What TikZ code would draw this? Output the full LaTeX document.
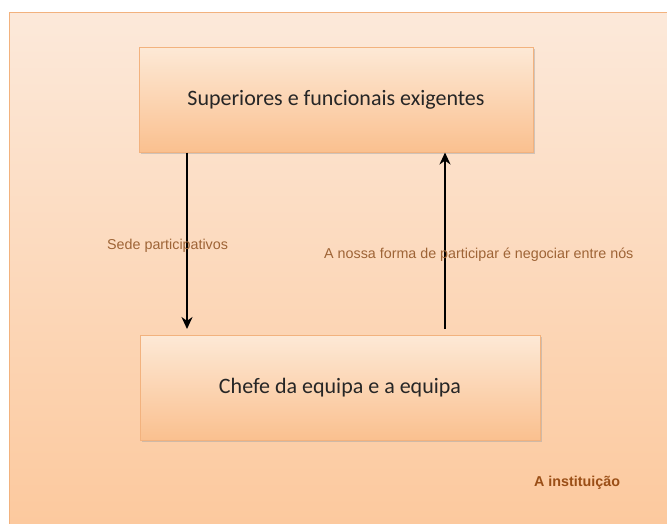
\documentclass[tikz,border=0pt]{standalone}
\usepackage{fontspec}
\setmainfont{Carlito}
\newfontfamily\lab{Liberation Sans}
\usetikzlibrary{arrows.meta,shadows}
\definecolor{edgeor}{HTML}{F2B27E}
\definecolor{labbrown}{HTML}{9E6436}
\definecolor{insbrown}{HTML}{9A4E16}
\tikzset{
  box/.style={draw=edgeor, line width=0.8pt, minimum width=394pt, minimum height=105pt,
    top color={rgb,255:red,253;green,233;blue,214}, bottom color={rgb,255:red,250;green,192;blue,143},
    drop shadow={shadow xshift=1.5pt, shadow yshift=-2pt, fill=black!35, opacity=0.5},
    font=\fontsize{22}{26}\selectfont, text=black!85, inner sep=0pt},
  conn/.style={line width=2.6pt, -{Stealth[length=12pt,width=11pt]}},
  lbl/.style={font=\lab\fontsize{14.3}{16}\selectfont, text=labbrown, inner sep=0pt, anchor=west}
}
\begin{document}
\begin{tikzpicture}[x=1pt,y=-1pt]
\useasboundingbox (0,0) rectangle (667,523);
\fill[white] (0,0) rectangle (667,523);
\shade[top color={rgb,255:red,252;green,233;blue,218}, bottom color={rgb,255:red,252;green,200;blue,156}] (9,12) rectangle (680,540);
\draw[edgeor, line width=0.8pt] (680,12) -- (9,12) -- (9,540);
\node[box] (top) at (336,99.5) {Superiores e funcionais exigentes};
\node[box, minimum width=400pt] (bot) at (340,387.5) {Chefe da equipa e a equipa};
\coordinate (d1) at (187,152.5);
\coordinate (d2) at (187,329);
\coordinate (u1) at (445,329);
\coordinate (u2) at (445,152.5);
\draw[conn] (d1) -- (d2);
\draw[conn] (u1) -- (u2);
\node[lbl] (l1) at (107,246) {Sede participativos};
\node[lbl] (l2) at (324,255) {A nossa forma de participar é negociar entre nós};
\node[font=\lab\bfseries\fontsize{14.3}{16}\selectfont, text=insbrown, inner sep=0pt, anchor=west] (ins) at (534,483) {A instituição};
\end{tikzpicture}
\end{document}
